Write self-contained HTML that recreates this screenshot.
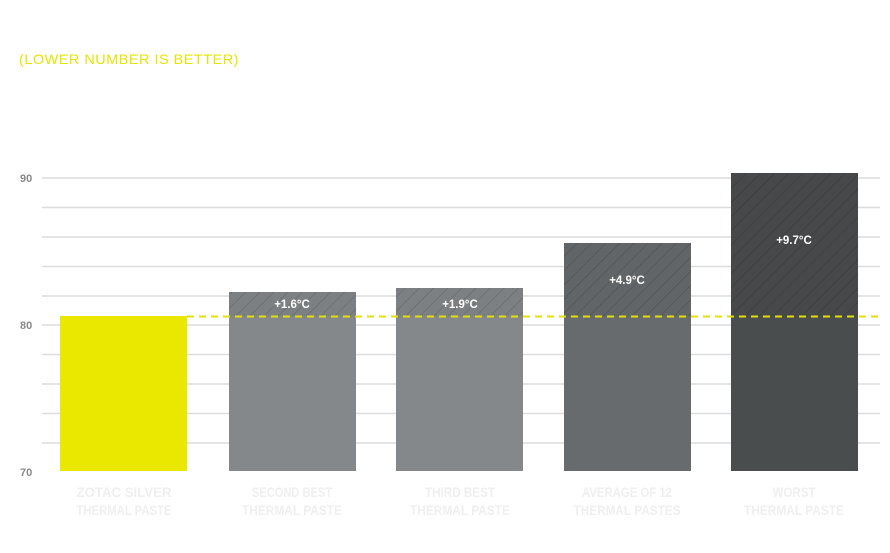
<!DOCTYPE html>
<html><head><meta charset="utf-8"><style>
html,body{margin:0;padding:0;background:#fff;width:890px;height:553px;overflow:hidden}
svg{display:block;font-family:"Liberation Sans",sans-serif}
</style></head><body>
<svg width="890" height="553" viewBox="0 0 890 553">
<defs>
<pattern id="h" patternUnits="userSpaceOnUse" width="10" height="10" patternTransform="rotate(45)">
<rect width="10" height="10" fill="rgba(0,0,0,0.06)"/>
<line x1="0" y1="0" x2="0" y2="10" stroke="rgba(0,0,0,0.22)" stroke-width="1"/>
</pattern>
</defs>
<text x="19" y="64" font-size="14" fill="#e6e400" letter-spacing="0.5" textLength="220" lengthAdjust="spacingAndGlyphs">(LOWER NUMBER IS BETTER)</text>
<g stroke="#dcdcdc" stroke-width="1.5">
<line x1="42" y1="178" x2="880" y2="178"/>
<line x1="42" y1="207.5" x2="880" y2="207.5"/>
<line x1="42" y1="237" x2="880" y2="237"/>
<line x1="42" y1="266.5" x2="880" y2="266.5"/>
<line x1="42" y1="296" x2="880" y2="296"/>
<line x1="42" y1="325" x2="880" y2="325"/>
<line x1="42" y1="354.5" x2="880" y2="354.5"/>
<line x1="42" y1="384" x2="880" y2="384"/>
<line x1="42" y1="413.5" x2="880" y2="413.5"/>
<line x1="42" y1="443" x2="880" y2="443"/>
</g>
<g font-size="11" font-weight="bold" fill="#888">
<text x="20" y="182">90</text>
<text x="20" y="329">80</text>
<text x="20" y="476">70</text>
</g>
<rect x="60" y="316" width="127" height="155" fill="#ebe800"/>
<rect x="229" y="292" width="127" height="179" fill="#85888a"/>
<rect x="229" y="292" width="127" height="24" fill="url(#h)"/>
<rect x="396" y="288" width="127" height="183" fill="#85888a"/>
<rect x="396" y="288" width="127" height="28" fill="url(#h)"/>
<rect x="564" y="243" width="127" height="228" fill="#686b6d"/>
<rect x="564" y="243" width="127" height="73" fill="url(#h)"/>
<rect x="731" y="173" width="127" height="298" fill="#4a4d4e"/>
<rect x="731" y="173" width="127" height="143" fill="url(#h)"/>
<line x1="187" y1="316.5" x2="882" y2="316.5" stroke="#e2df10" stroke-width="2" stroke-dasharray="7,5"/>
<g font-size="11.5" font-weight="bold" fill="#fff" text-anchor="middle">
<text x="292" y="308">+1.6°C</text>
<text x="460" y="308">+1.9°C</text>
<text x="627" y="284">+4.9°C</text>
<text x="794" y="244">+9.7°C</text>
</g>
<g font-size="14" font-weight="bold" fill="#efefef" text-anchor="middle">
<text x="124" y="497" textLength="95" lengthAdjust="spacingAndGlyphs">ZOTAC SILVER</text>
<text x="124" y="515" textLength="95" lengthAdjust="spacingAndGlyphs">THERMAL PASTE</text>
<text x="292" y="497" textLength="80" lengthAdjust="spacingAndGlyphs">SECOND BEST</text>
<text x="292" y="515" textLength="100" lengthAdjust="spacingAndGlyphs">THERMAL PASTE</text>
<text x="460" y="497" textLength="70" lengthAdjust="spacingAndGlyphs">THIRD BEST</text>
<text x="460" y="515" textLength="100" lengthAdjust="spacingAndGlyphs">THERMAL PASTE</text>
<text x="627" y="497" textLength="90" lengthAdjust="spacingAndGlyphs">AVERAGE OF 12</text>
<text x="627" y="515" textLength="107" lengthAdjust="spacingAndGlyphs">THERMAL PASTES</text>
<text x="794" y="497" textLength="43" lengthAdjust="spacingAndGlyphs">WORST</text>
<text x="794" y="515" textLength="100" lengthAdjust="spacingAndGlyphs">THERMAL PASTE</text>
</g>
</svg>
</body></html>
